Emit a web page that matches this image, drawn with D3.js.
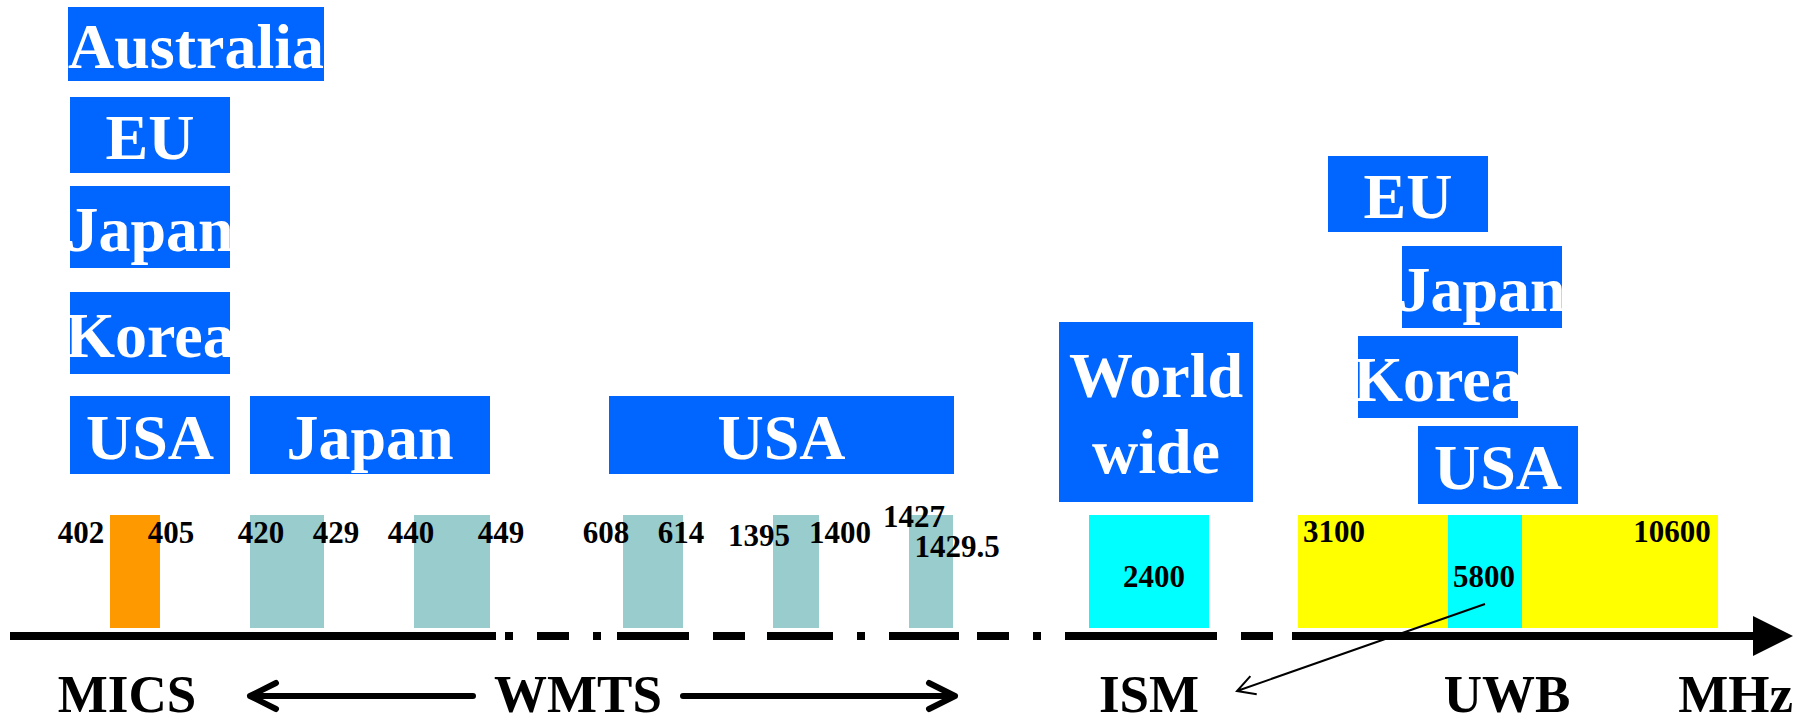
<!DOCTYPE html>
<html>
<head>
<meta charset="utf-8">
<title>Medical radio bands</title>
<script src="https://cdn.jsdelivr.net/npm/d3@7"></script>
<style>
  body { margin: 0; background: #fff; }
  svg text { font-family: "Liberation Serif", "Times New Roman", serif; font-weight: bold; }
</style>
</head>
<body>
<svg id="chart" width="1806" height="717"></svg>
<script>
// ---- data ------------------------------------------------------------
// frequency bands, MHz (5725-5875 drawn last so it sits on top of UWB)
const bandLow     = [402, 420, 440, 608, 1395, 1427,   2400,   3100,  5725];
const bandHigh    = [405, 429, 449, 614, 1400, 1429.5, 2483.5, 10600, 5875];
const bandService = ["MICS", "WMTS", "WMTS", "WMTS", "WMTS", "WMTS", "ISM", "UWB", "ISM"];

// edge labels and the frequency each one names
const freqLabels = ["402", "405", "420", "429", "440", "449", "608", "614",
                    "1395", "1400", "1427", "1429.5", "2400", "3100", "5800", "10600"];

// regions where each service is allowed
const regionNames   = ["Australia", "EU", "Japan", "Korea", "USA", "Japan", "USA",
                       "World wide", "EU", "Japan", "Korea", "USA"];
const regionService = ["MICS", "MICS", "MICS", "MICS", "MICS", "WMTS", "WMTS",
                       "ISM", "UWB", "UWB", "UWB", "UWB"];

const serviceNames = ["MICS", "WMTS", "ISM", "UWB"];
const unitLabel = "MHz";

// ---- layout ----------------------------------------------------------
const width = 1806, height = 717;
const axisY = 636, axisStart = 10, arrowBase = 1753, arrowTip = 1793;
const bandTop = 515, bandBottom = 628;

// the axis is schematic, not to scale: one stop per band edge
const xStops = [110, 160, 250, 324, 414, 490, 623, 683, 773, 819, 909, 953,
                1089, 1209, 1298, 1448, 1522, 1718];

// label nudges from the edge they name [dx, baseline]
const labelNudge = {
  "402": [-29, 543], "405": [11, 543], "420": [11, 543], "429": [12, 543],
  "440": [-3, 543], "449": [11, 543], "608": [-17, 543], "614": [-2, 543],
  "1395": [-14, 546], "1400": [21, 543], "1427": [5, 527], "1429.5": [4, 557],
  "2400": [65, 587], "3100": [36, 542], "5800": [-1, 587], "10600": [-46, 542]
};

// region boxes [x, y, w, h]
const regionBox = [
  [68, 7, 256, 74], [70, 97, 160, 76], [70, 186, 160, 82], [70, 292, 160, 82],
  [70, 396, 160, 78], [250, 396, 240, 78], [609, 396, 345, 78],
  [1059, 322, 194, 180], [1328, 156, 160, 76], [1402, 246, 160, 82],
  [1358, 336, 160, 82], [1418, 426, 160, 78]
];

const serviceColor = d3.scaleOrdinal()
  .domain(serviceNames)
  .range(["#FF9900", "#99CCCC", "#00FFFF", "#FFFF00"]);
const regionColor = "#0066FF";

// ---- scales ----------------------------------------------------------
const edges = Array.from(new Set(bandLow.concat(bandHigh))).sort((a, b) => a - b);
const x = d3.scaleLinear().domain(edges).range(xStops);
const y = d3.scaleLinear().domain([0, 1]).range([bandBottom, bandTop]);

const svg = d3.select("#chart");
svg.append("rect").attr("width", width).attr("height", height).attr("fill", "#fff");

// ---- bands -----------------------------------------------------------
const bands = bandLow.map((lo, i) => ({lo: lo, hi: bandHigh[i], service: bandService[i]}));

svg.append("g").selectAll("rect")
  .data(bands)
  .enter().append("rect")
    .attr("x", d => x(d.lo))
    .attr("width", d => x(d.hi) - x(d.lo))
    .attr("y", y(1))
    .attr("height", y(0) - y(1))
    .attr("fill", d => serviceColor(d.service));

// ---- axis: dash-dot between the bands, solid under them ---------------
const axis = svg.append("g");
axis.append("line")
  .attr("x1", axisStart).attr("x2", arrowBase)
  .attr("y1", axisY).attr("y2", axisY)
  .attr("stroke", "#000").attr("stroke-width", 8)
  .attr("stroke-dasharray", "32 24 8 24")
  .attr("stroke-dashoffset", 1);

const solidGroups = [[null, 449], [608, 614], [1395, 1400], [1427, 1429.5], [2400, 2483.5], [3100, null]];
axis.selectAll("line.solid")
  .data(solidGroups)
  .enter().append("line")
    .attr("class", "solid")
    .attr("x1", d => d[0] === null ? axisStart : x(d[0]) - 6)
    .attr("x2", d => d[1] === null ? arrowBase : x(d[1]) + 6)
    .attr("y1", axisY).attr("y2", axisY)
    .attr("stroke", "#000").attr("stroke-width", 8);

axis.append("path")
  .attr("d", `M${arrowBase},${axisY - 20}L${arrowTip},${axisY}L${arrowBase},${axisY + 20}Z`)
  .attr("fill", "#000");

// ---- edge labels -----------------------------------------------------
svg.append("g").selectAll("text")
  .data(freqLabels)
  .enter().append("text")
    .attr("x", d => x(+d) + labelNudge[d][0])
    .attr("y", d => labelNudge[d][1])
    .attr("text-anchor", "middle")
    .attr("font-size", 31)
    .attr("fill", "#000")
    .text(d => d);

// ---- region boxes ----------------------------------------------------
const regions = regionNames.map((name, i) => ({name: name, service: regionService[i], box: regionBox[i]}));
const rg = svg.append("g").selectAll("g")
  .data(regions)
  .enter().append("g");

rg.append("rect")
  .attr("x", d => d.box[0]).attr("y", d => d.box[1])
  .attr("width", d => d.box[2]).attr("height", d => d.box[3])
  .attr("fill", regionColor);

rg.append("text")
  .attr("x", d => d.box[0] + d.box[2] / 2)
  .attr("y", d => d.box[1] + d.box[3] / 2 + 24)
  .attr("text-anchor", "middle")
  .attr("font-size", 64)
  .attr("fill", "#fff")
  .each(function(d) {
    let words = d.name.split(" ");
    let t = d3.select(this);
    if (words.length === 1) {
      t.text(d.name);
    } else {
      t.attr("y", d.box[1] + d.box[3] / 2 - 15);
      words.forEach((w, k) => {
        t.append("tspan")
          .attr("x", d.box[0] + d.box[2] / 2)
          .attr("dy", k === 0 ? 0 : 76)
          .text(w);
      });
    }
  });

// ---- service names along the bottom ---------------------------------
const bottomY = 712;
const serviceX = {MICS: 127, WMTS: 578, ISM: x(2400) + 60, UWB: 1507};
svg.append("g").selectAll("text")
  .data(serviceNames)
  .enter().append("text")
    .attr("x", d => serviceX[d])
    .attr("y", bottomY)
    .attr("text-anchor", "middle")
    .attr("font-size", 53)
    .attr("fill", "#000")
    .text(d => d);

svg.append("text")
  .attr("x", arrowTip)
  .attr("y", bottomY)
  .attr("text-anchor", "end")
  .attr("font-size", 53)
  .attr("fill", "#000")
  .text(unitLabel);

// WMTS span arrows, from the label out to the outer WMTS edges
const arrowY = 696;
const wmtsArrows = [[473, x(420)], [683, x(1429.5) + 2]];
svg.append("g").selectAll("path")
  .data(wmtsArrows)
  .enter().append("path")
    .attr("d", d => {
      let dir = d[1] < d[0] ? 1 : -1;
      return `M${d[0]},${arrowY}L${d[1]},${arrowY}` +
             `M${d[1] + dir * 26},${arrowY - 13}L${d[1]},${arrowY}L${d[1] + dir * 26},${arrowY + 13}`;
    })
    .attr("fill", "none")
    .attr("stroke", "#000")
    .attr("stroke-width", 6)
    .attr("stroke-linecap", "round")
    .attr("stroke-linejoin", "round");

// leader from the 5.8 GHz band down to ISM
const from = [x(5800), 604], to = [x(2483.5) + 28, 691];
const ang = Math.atan2(from[1] - to[1], from[0] - to[0]);
const headLen = 20, spread = 0.5;
svg.append("path")
  .attr("d", `M${from[0]},${from[1]}L${to[0]},${to[1]}` +
             `M${to[0] + headLen * Math.cos(ang - spread)},${to[1] + headLen * Math.sin(ang - spread)}` +
             `L${to[0]},${to[1]}` +
             `L${to[0] + headLen * Math.cos(ang + spread)},${to[1] + headLen * Math.sin(ang + spread)}`)
  .attr("fill", "none")
  .attr("stroke", "#000")
  .attr("stroke-width", 2);
</script>
</body>
</html>
